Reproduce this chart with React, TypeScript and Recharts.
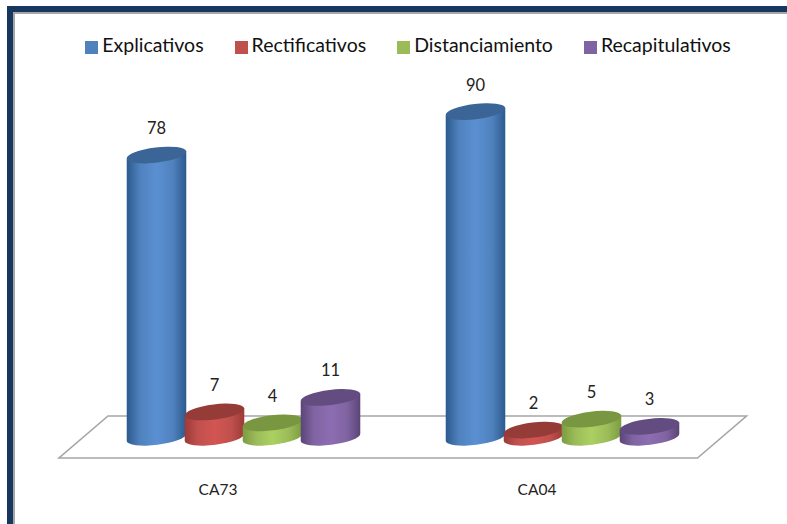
import { Bar, BarChart, LabelList, Legend, XAxis, YAxis, usePlotArea } from "recharts";

const categories = ["CA73", "CA04"];
const explicativos = [78, 90];
const rectificativos = [7, 2];
const distanciamiento = [4, 5];
const recapitulativos = [11, 3];

const data = categories.map((name, i) => ({
  name,
  Explicativos: explicativos[i],
  Rectificativos: rectificativos[i],
  Distanciamiento: distanciamiento[i],
  Recapitulativos: recapitulativos[i],
}));

const SERIES = [
  { key: "Explicativos", id: "blue", fill: "#4f81bd", edge: "#2c5a8e", mid: "#5a90d2", top: "#3a6596" },
  { key: "Rectificativos", id: "red", fill: "#c0504d", edge: "#9c3a37", mid: "#d25552", top: "#953c39" },
  { key: "Distanciamiento", id: "green", fill: "#9bbb59", edge: "#7b9c40", mid: "#abd062", top: "#799640" },
  { key: "Recapitulativos", id: "purple", fill: "#8064a2", edge: "#5b4577", mid: "#8d6db2", top: "#634c80" },
];

const FONT = "Lato, 'Open Sans', sans-serif";
const TILT = -7;
const RY = 7.6;

// cylinder standing on the bar's base, top ellipse sits on the value
function Cylinder(props: any) {
  const { x, y, width, height, gradient, topColor } = props;
  const rx = width / 2;
  const cx = x + rx;
  const bottom = y + height;
  const rad = (TILT * Math.PI) / 180;
  const dx = rx * Math.cos(rad);
  const dy = rx * Math.sin(rad);
  const side = `M${cx - dx},${y - dy} L${cx - dx},${bottom - dy} A${rx},${RY} ${TILT} 0 0 ${cx + dx},${bottom + dy} L${cx + dx},${y + dy} Z`;
  return (
    <g>
      <path d={side} fill={`url(#${gradient})`} />
      <ellipse cx={cx} cy={y} rx={rx} ry={RY} fill={topColor} transform={`rotate(${TILT} ${cx} ${y})`} />
    </g>
  );
}

// the slanted floor of the 3D chart
function Floor() {
  const plot = usePlotArea();
  if (!plot) return null;
  const left = plot.x;
  const right = plot.x + plot.width;
  const base = plot.y + plot.height;
  const points = [
    [left - 24.5, base + 20.7],
    [right - 24, base + 20.7],
    [right + 25, base - 21.3],
    [left + 24.5, base - 21.3],
  ];
  return <polygon points={points.map((p) => p.join(",")).join(" ")} fill="#fff" stroke="#a6a6a6" strokeWidth={1.6} />;
}

export default function App() {
  return (
    <div style={{ position: "absolute", left: 0, top: 0, width: 787, height: 524, background: "#fff", overflow: "hidden" }}>
      <div style={{ position: "absolute", left: 7, top: 6, width: 780, height: 518, boxSizing: "border-box", borderLeft: "6px solid #17375e", borderTop: "6px solid #17375e" }} />
      <div style={{ position: "absolute", left: 13, top: 12, width: 774, height: 512, boxSizing: "border-box", borderLeft: "2px solid #a6a6a6", borderTop: "2px solid #a6a6a6" }} />
      <BarChart
        width={787}
        height={524}
        data={data}
        barSize={60}
        barGap={-2}
        margin={{ top: 34.3, right: 65.5, bottom: 56.7, left: 83.5 }}
        style={{ position: "absolute", left: 0, top: 0, fontFamily: FONT }}
      >
        <defs>
          {SERIES.map((s) => (
            <linearGradient key={s.id} id={s.id} x1="0" y1="0" x2="1" y2="0">
              <stop offset="0%" stopColor={s.edge} />
              <stop offset="22%" stopColor={s.fill} />
              <stop offset="50%" stopColor={s.mid} />
              <stop offset="78%" stopColor={s.fill} />
              <stop offset="100%" stopColor={s.edge} />
            </linearGradient>
          ))}
        </defs>
        <Floor />
        <XAxis
          dataKey="name"
          axisLine={false}
          tickLine={false}
          tick={{ fontSize: 15.5, fill: "#222", dx: -25 }}
          tickMargin={41}
        />
        <YAxis hide domain={[0, 105]} />
        <Legend
          verticalAlign="top"
          iconType="square"
          iconSize={13}
          itemSorter={null}
          wrapperStyle={{ top: 33, left: 30, width: 787, fontSize: 19.5, fontFamily: FONT }}
          formatter={(value: string) => <span style={{ color: "#111", marginLeft: 0, marginRight: 21 }}>{value}</span>}
        />
        {SERIES.map((s) => (
          <Bar
            key={s.key}
            dataKey={s.key}
            fill={s.fill}
            isAnimationActive={false}
            shape={(p: any) => <Cylinder {...p} gradient={s.id} topColor={s.top} />}
          >
            <LabelList dataKey={s.key} position="top" offset={21} fontSize={16.5} fill="#222" />
          </Bar>
        ))}
      </BarChart>
    </div>
  );
}
